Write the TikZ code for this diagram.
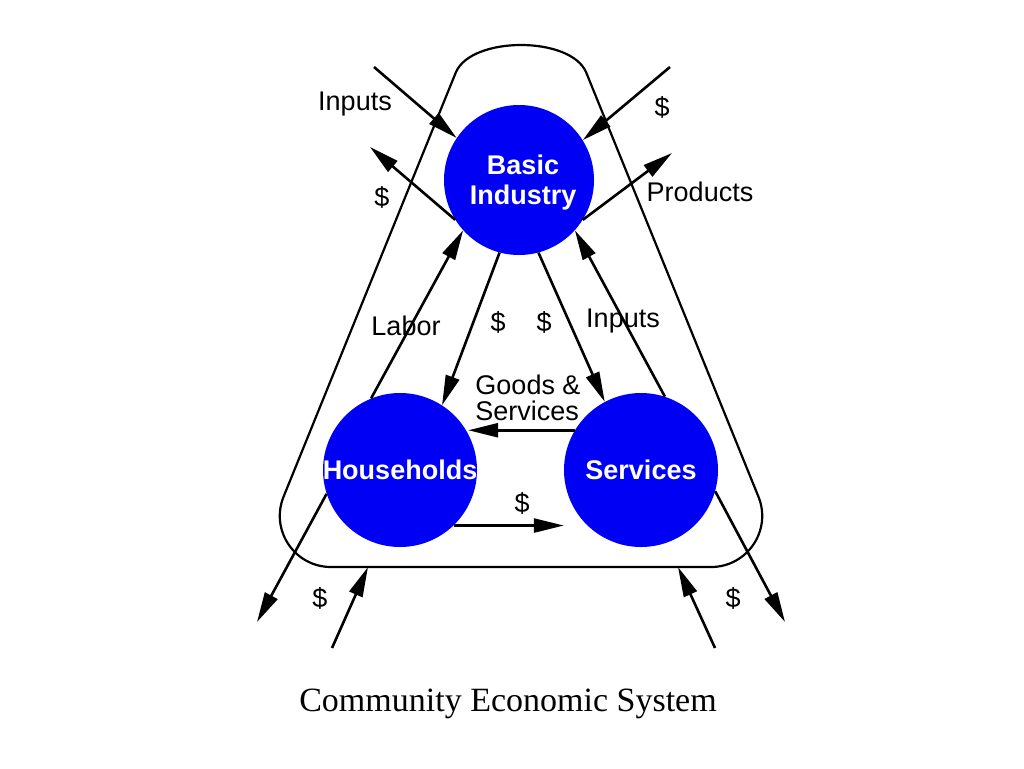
\documentclass[tikz,border=0pt]{standalone}
\usepackage{fontspec}
\setmainfont{Liberation Sans}
\newfontfamily\capfont{Liberation Serif}
\usetikzlibrary{arrows.meta}
\definecolor{cblue}{RGB}{0,0,245}
\begin{document}
\begin{tikzpicture}[x=1pt,y=-1pt,
  circ/.style={circle,fill=cblue,draw=none,minimum size=#1,inner sep=0pt},
  wlab/.style={text=white,font=\fontsize{27}{30}\selectfont\bfseries,align=center,inner sep=0pt},
  lab/.style={font=\fontsize{27}{27}\selectfont,inner sep=0pt},
  arr/.style={line width=2.6pt,-{Triangle[length=30pt,width=14pt]}},
  outline/.style={line width=2.2pt,line join=round}]
\useasboundingbox[fill=white] (0,0) rectangle (1024,768);
% outline (rounded triangle)
\draw[outline] (331,567) -- (711,567)
  .. controls (747.3,567) and (772.1,530.3) .. (758.4,496.6)
  -- (586,72)
  .. controls (570,36) and (472,36) .. (456,72)
  -- (283.6,496.6)
  .. controls (269.9,530.3) and (294.7,567) .. (331,567) -- cycle;
% circles
\node[circ=150pt] (bi) at (519,180) {};
\node[circ=154pt] (hh) at (400,470) {};
\node[circ=154pt] (sv) at (641,470) {};
\node[wlab] (bil) at (523,183) {Basic\\Industry};
\node[wlab] (hhl) at (hh) {Households};
\node[wlab] (svl) at (sv) {Services};
% free ends
\coordinate (inTL) at (374,67);
\coordinate (inTR) at (670,67);
\coordinate (outTL) at (370,147);
\coordinate (outTR) at (672,153);
\coordinate (outBL) at (257,622);
\coordinate (inBLs) at (332,648);
\coordinate (inBLt) at (368,567);
\coordinate (inBRs) at (715,648);
\coordinate (inBRt) at (678,567);
\coordinate (outBR) at (785,622);
% labels
\node[lab] (l1) at (355,104) {Inputs};
\node[lab] (l2) at (662,107) {\$};
\node[lab] (l3) at (382,197) {\$};
\node[lab] (l4) at (700,192) {Products};
\node[lab] (l5) at (406,326) {Labor};
\node[lab] (l6) at (498,322) {\$};
\node[lab] (l7) at (544,322) {\$};
\node[lab] (l8) at (623,321) {Inputs};
\node[lab,align=left,font=\fontsize{27}{26}\selectfont] (l9) at (528,398) {Goods \&\\Services};
\node[lab] (l10) at (522,503) {\$};
\node[lab] (l11) at (320,598) {\$};
\node[lab] (l12) at (733,598) {\$};
% arrows
\draw[arr] (inTL) -- (bi.146);
\draw[arr] (inTR) -- (bi.32);
\draw[arr] (bi.212) -- (outTL);
\draw[arr] (bi.328) -- (outTR);
\draw[arr] (hh.112) -- (bi.222);
\draw[arr] (sv.72) -- (bi.318);
\draw[arr] (bi.255) -- (hh.57);
\draw[arr] (bi.285) -- (sv.118);
\draw[arr] (sv.149) -- (sv.149 -| hh.28);
\draw[arr] (hh.314) -- (hh.314 -| sv.west);
\draw[arr] (hh.198) -- (outBL);
\draw[arr] (inBLs) -- (inBLt);
\draw[arr] (inBRs) -- (inBRt);
\draw[arr] (sv.344) -- (outBR);
% caption
\node[inner sep=0pt,font=\capfont\fontsize{34}{40}\selectfont] (cap) at (508,704) {Community Economic System};
\end{tikzpicture}
\end{document}
